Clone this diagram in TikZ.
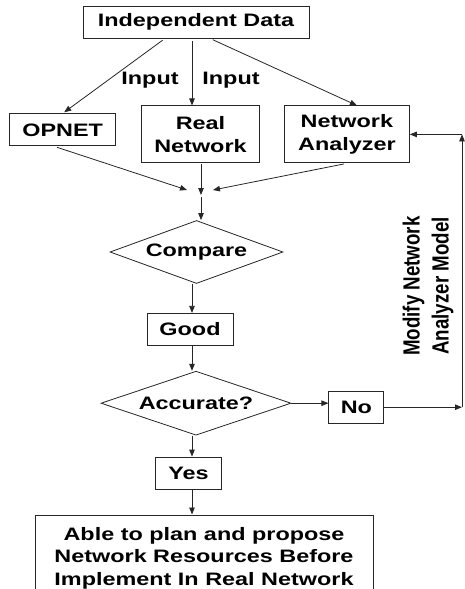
\documentclass[tikz,border=0pt]{standalone}
\usepackage{fontspec}
\setmainfont{Liberation Sans}[FakeStretch=1.3]
\newfontfamily\sidefont{Liberation Sans}[FakeStretch=0.8]
\usetikzlibrary{positioning, shapes.geometric, arrows.meta}

\begin{document}
\begin{tikzpicture}[
			x=1pt, y=-1pt,
			node distance = 25pt and 25pt,
			box/.style = {
				rectangle,
				draw=black!85,
				line width=0.9pt,
				align=center,
				font=\bfseries\fontsize{18}{22.5}\selectfont,
				inner sep=0pt
			},
			choice/.style = {
				diamond,
				draw=black!85,
				line width=0.8pt,
				font=\bfseries\fontsize{18}{22.5}\selectfont,
				inner sep=0pt
			},
			lbl/.style = {font=\bfseries\fontsize{18}{22.5}\selectfont, inner sep=0pt},
			arr/.style = {-{Triangle[length=7pt, width=5.5pt]}, line width=0.8pt, draw=black!85}
			]
			\useasboundingbox (0,0) rectangle (465,589);
			\clip (0,0) rectangle (465,589);
			
			\node[box, minimum width=226pt, minimum height=32pt] (data) at (196,22) {Independent Data};
			
			\node[box, minimum width=118pt, minimum height=57pt, below=67pt of data, xshift=4.5pt] (real) {Real\\Network};
			\node[box, minimum width=106pt, minimum height=32pt, left=25pt of real, yshift=4.5pt] (opnet) {OPNET};
			\node[box, minimum width=125pt, minimum height=57pt, right=24pt of real] (analyzer) {Network\\Analyzer};
			
			\node[lbl] (in1) at (150,80) {Input};
			\node[lbl] (in2) at (231,80) {Input};
			
			\draw[arr, shorten <=3pt, shorten >=2pt] ([xshift=-31pt]data.south) -- (opnet.north);
			\draw[arr, shorten <=3pt] ([xshift=-4pt]data.south) -- ([xshift=-4pt]data.south |- real.north);
			\draw[arr, shorten <=3pt] ([xshift=14pt]data.south) -- ([xshift=10pt]analyzer.north);
			
			\coordinate (merge) at (201,195);
			\draw[arr, shorten <=3pt] ([xshift=-8.5pt]opnet.south) -- ([shift={(-14pt,5pt)}]merge);
			\draw[arr, shorten <=1pt] (real.south -| merge) -- (merge);
			\draw[arr, shorten <=3pt] (analyzer.south) -- ([shift={(12pt,5pt)}]merge);
			
			\node[choice, aspect=2.75, minimum width=173pt, minimum height=63pt] (compare) at (196.5,252) {Compare};
			\draw[arr] ([yshift=-2pt]merge) -- (merge |- compare.north);
			
			\node[box, minimum width=86pt, minimum height=32pt, below=29pt of compare, xshift=-6.5pt] (good) {Good};
			\node[choice, aspect=2.97, minimum width=190pt, minimum height=64pt, below=25pt of good, xshift=6pt] (accurate) {Accurate?};
			\node[box, minimum width=55pt, minimum height=32pt, right=37pt of accurate, yshift=-4pt] (no) {No};
			\node[box, minimum width=66pt, minimum height=32pt, below=21pt of accurate, xshift=-7.5pt] (yes) {Yes};
			\node[box, minimum width=338pt, minimum height=86pt, below=25pt of yes, xshift=15.5pt, anchor=north] (final)
			{Able to plan and propose\\Network Resources Before\\Implement In Real Network};
			
			\draw[arr] ([xshift=-4.5pt]compare.south) -- ([xshift=-4.5pt]compare.south |- good.north);
			\draw[arr] ([xshift=2pt]good.south) -- ([xshift=2pt]good.south |- accurate.north);
			\draw[arr] (accurate.east) -- (accurate.east -| no.west);
			\draw[arr] ([xshift=-4pt]accurate.south) -- ([xshift=-4pt]accurate.south |- yes.north);
			\draw[arr] ([xshift=3.5pt]yes.south) -- ([xshift=3.5pt]yes.south |- final.north);
			
			% loop back to the analyzer
			\coordinate (turn) at (462,133.5);
			\draw[arr] (no.east) -- (no.east -| turn);
			\draw[arr] (no.east -| turn) -- (turn |- analyzer.east);
			\draw[arr] (turn |- analyzer.east) -- (analyzer.east);
			
			\node[rotate=90, align=center, inner sep=0pt, font=\sidefont\bfseries\fontsize{23.4}{29}\selectfont] (modify) at (428,286)
			{Modify Network\\Analyzer Model};
			
		\end{tikzpicture}
\end{document}
